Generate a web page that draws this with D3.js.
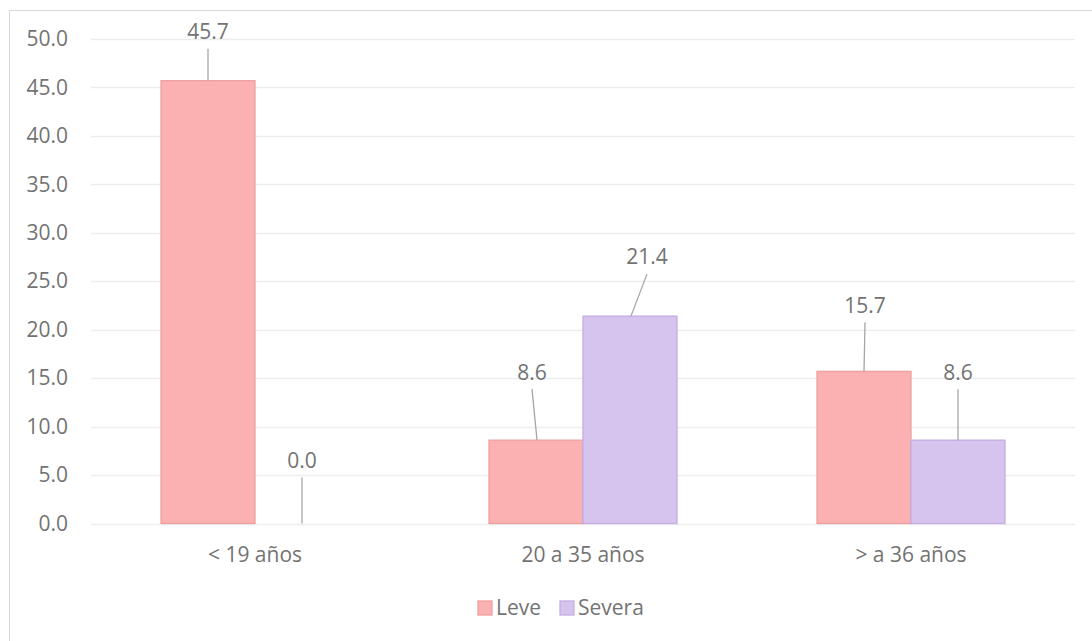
<!DOCTYPE html>
<html>
<head>
<meta charset="utf-8">
<script src="https://cdn.jsdelivr.net/npm/d3@7"></script>
<style>
  html, body { margin: 0; padding: 0; background: #fff; }
  svg { display: block; font-family: "Open Sans", "Liberation Sans", sans-serif; }
</style>
</head>
<body>
<svg id="chart" width="1092" height="641"></svg>
<script>
// Age groups and the two severity series (percent)
const categories = ["< 19 años", "20 a 35 años", "> a 36 años"];
const seriesNames = ["Leve", "Severa"];
const leve = [45.7, 8.6, 15.7];
const severa = [0.0, 21.4, 8.6];
const yTicks = [0, 5, 10, 15, 20, 25, 30, 35, 40, 45, 50];

// Label placement (offset of the label centre from the bar top, in px)
const labelOffsets = [
  [{dx: 0, dy: -49}, {dx: 0, dy: -63}],
  [{dx: -4, dy: -68}, {dx: 17, dy: -59}],
  [{dx: 1, dy: -66}, {dx: 0, dy: -68}]
];

const fills = ["#FBB1B1", "#D6C3EE"];
const strokes = ["#EFA0A0", "#C5ACE2"];
const textColor = "#737373";
const fontSize = 21;

const svg = d3.select("#chart");
const m = {left: 91, right: 1075, top: 39, bottom: 523.5};

// Outer frame
svg.append("rect")
  .attr("x", 9.5).attr("y", 10.5)
  .attr("width", 1100).attr("height", 700)
  .attr("fill", "none").attr("stroke", "#D9D9D9").attr("stroke-width", 1);

const x0 = d3.scaleBand().domain(categories).range([m.left, m.right]).paddingInner(0).paddingOuter(0);
const x1 = d3.scaleBand().domain(seriesNames).range([0, x0.bandwidth()]).paddingInner(0).paddingOuter(0.745);
const y = d3.scaleLinear().domain([0, 50]).range([m.bottom, m.top]);

// Gridlines
svg.append("g")
  .selectAll("line").data(yTicks).join("line")
  .attr("x1", m.left).attr("x2", m.right)
  .attr("y1", d => Math.round(y(d)) + 0.5).attr("y2", d => Math.round(y(d)) + 0.5)
  .attr("stroke", "#EDEDED").attr("stroke-width", 1.3);

// Y axis tick labels
const yAxis = d3.axisLeft(y).tickValues(yTicks).tickFormat(d3.format(".1f")).tickSize(0).tickPadding(0);
const gy = svg.append("g").attr("transform", `translate(68,0)`).call(yAxis);
gy.select(".domain").remove();
gy.attr("font-size", fontSize).attr("font-family", "\"Open Sans\", sans-serif");
gy.selectAll("text").attr("fill", textColor);

// X axis category labels
const xAxis = d3.axisBottom(x0).tickSize(0).tickPadding(0);
const gx = svg.append("g").attr("transform", `translate(0,${m.bottom + 24})`).call(xAxis);
gx.select(".domain").remove();
gx.attr("font-size", fontSize).attr("font-family", "\"Open Sans\", sans-serif");
gx.selectAll("text").attr("fill", textColor);

// Bars
const rows = categories.map((c, i) => ({cat: c, i, vals: [leve[i], severa[i]]}));
const groups = svg.append("g").selectAll("g").data(rows).join("g")
  .attr("transform", d => `translate(${x0(d.cat)},0)`);

groups.selectAll("rect")
  .data(d => d.vals.map((v, k) => ({v, k, i: d.i})))
  .join("rect")
  .attr("x", d => x1(seriesNames[d.k]))
  .attr("y", d => y(d.v))
  .attr("width", x1.bandwidth())
  .attr("height", d => y(0) - y(d.v))
  .attr("fill", d => fills[d.k])
  .attr("stroke", d => strokes[d.k])
  .attr("stroke-width", d => d.v > 0 ? 1.3 : 0);

// Data labels with leader lines
const labels = [];
rows.forEach(r => r.vals.forEach((v, k) => {
  const cx = x0(r.cat) + x1(seriesNames[k]) + x1.bandwidth() / 2;
  const top = y(v);
  const o = labelOffsets[r.i][k];
  labels.push({v, cx, top, lx: cx + o.dx, ly: top + o.dy});
}));

const lg = svg.append("g");
lg.selectAll("line").data(labels).join("line")
  .attr("x1", d => d.lx).attr("y1", d => d.ly + 17)
  .attr("x2", d => d.cx + (Math.abs(d.lx - d.cx) > 2 ? 1 : 0)).attr("y2", d => d.top)
  .attr("stroke", "#A6A6A6").attr("stroke-width", 1.3);

lg.selectAll("text").data(labels).join("text")
  .attr("x", d => d.lx).attr("y", d => d.ly)
  .attr("dy", "0.35em")
  .attr("text-anchor", "middle")
  .attr("fill", textColor).attr("font-size", fontSize)
  .text(d => d3.format(".1f")(d.v));

// Legend
const legend = svg.append("g").attr("transform", "translate(0,608)");
const legendX = [478, 560];
seriesNames.forEach((name, k) => {
  legend.append("rect")
    .attr("x", legendX[k]).attr("y", -7)
    .attr("width", 14).attr("height", 14)
    .attr("fill", fills[k]).attr("stroke", strokes[k]).attr("stroke-width", 1.3);
  legend.append("text")
    .attr("x", legendX[k] + 18).attr("y", 0).attr("dy", "0.35em")
    .attr("fill", textColor).attr("font-size", fontSize)
    .text(name);
});
</script>
</body>
</html>
